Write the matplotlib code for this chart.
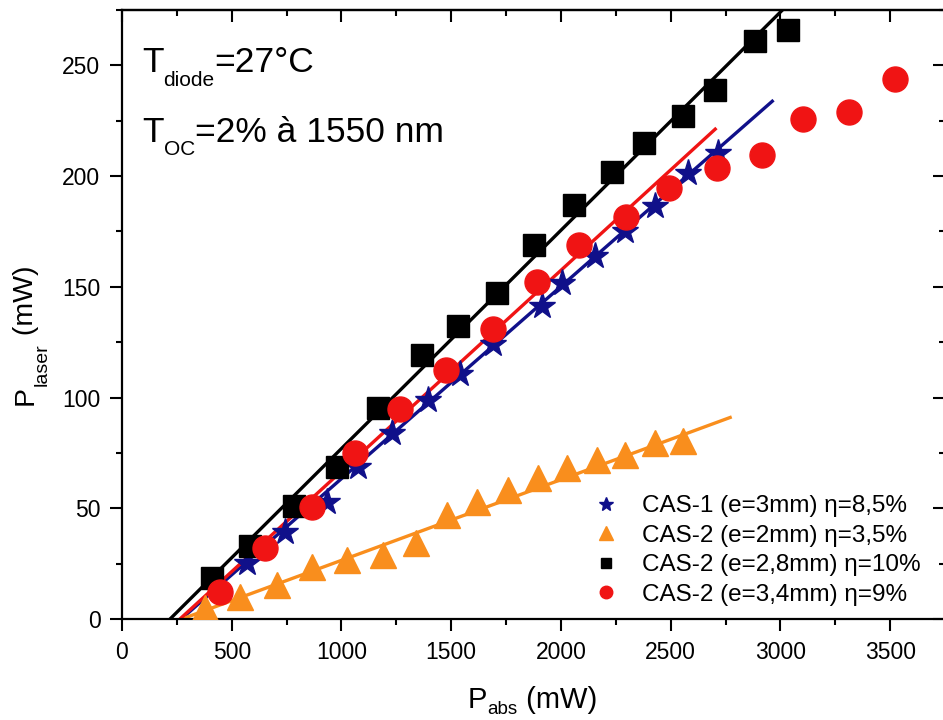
import matplotlib
matplotlib.use("Agg")
import matplotlib.pyplot as plt
from matplotlib.ticker import MultipleLocator
from matplotlib.transforms import IdentityTransform

plt.rcParams['font.family'] = ['Liberation Sans', 'DejaVu Sans']

# ---- data ----
cas1_x = [570, 743, 934, 1076, 1231, 1395, 1541, 1691, 1914, 2006, 2156, 2293, 2429, 2580, 2717]
cas1_y = [25.2, 39.2, 52.7, 68.5, 83.8, 98.7, 110.8, 124.3, 141.5, 151.8, 164.0, 175.2, 186.5, 201.4, 210.4]

cas2a_x = [380, 538, 706, 866, 1025, 1189, 1340, 1481, 1618, 1759, 1896, 2028, 2165, 2293, 2429, 2557]
cas2a_y = [5.0, 9.9, 15.3, 23.4, 26.6, 28.8, 34.2, 46.9, 52.7, 58.1, 63.5, 68.0, 71.6, 73.9, 79.7, 80.6]

cas2b_x = [410, 583, 784, 980, 1167, 1367, 1531, 1710, 1878, 2060, 2233, 2379, 2557, 2703, 2885, 3035]
cas2b_y = [18.5, 33.0, 51.0, 68.5, 95.5, 119.0, 132.5, 147.0, 169.0, 187.0, 202.0, 215.0, 227.0, 239.0, 261.0, 266.0]

cas2c_x = [447, 652, 866, 1062, 1267, 1477, 1691, 1892, 2083, 2297, 2493, 2712, 2917, 3104, 3314, 3523]
cas2c_y = [12.2, 32.0, 50.5, 75.0, 95.0, 112.5, 131.0, 152.0, 169.0, 181.6, 194.6, 203.6, 209.5, 225.7, 228.9, 243.7]

# linear fits (end points)
fit1_x, fit1_y = [270, 2963], [0, 233.8]
fit2a_x, fit2a_y = [273, 2771], [0, 91.0]
fit2b_x, fit2b_y = [219, 3050], [0, 279.0]
fit2c_x, fit2c_y = [264, 2703], [0, 221.2]

labels = ['CAS-1 (e=3mm) \u03b7=8,5%', 'CAS-2 (e=2mm) \u03b7=3,5%',
          'CAS-2 (e=2,8mm) \u03b7=10%', 'CAS-2 (e=3,4mm) \u03b7=9%']

navy = '#10108a'
orange = '#f98e1d'
red = '#f01414'
black = '#000000'

W, H = 943, 720
fig = plt.figure(figsize=(W / 100, H / 100), dpi=100)
ax = fig.add_axes([122 / W, (H - 619) / H, 823 / W, 609 / H])

lw = 2.4
ax.plot(fit1_x, fit1_y, color=navy, lw=lw, zorder=2)
ax.plot(fit2a_x, fit2a_y, color=orange, lw=lw, zorder=2)
ax.plot(fit2b_x, fit2b_y, color=black, lw=lw, zorder=2)
ax.plot(fit2c_x, fit2c_y, color=red, lw=lw, zorder=2)

h1, = ax.plot(cas1_x, cas1_y, ls='none', marker='*', ms=20, color=navy, label=labels[0], zorder=3)
h2, = ax.plot(cas2a_x, cas2a_y, ls='none', marker='^', ms=19, color=orange, label=labels[1], zorder=3)
h3, = ax.plot(cas2b_x, cas2b_y, ls='none', marker='s', ms=15.5, color=black, label=labels[2], zorder=3)
h4, = ax.plot(cas2c_x, cas2c_y, ls='none', marker='o', ms=18, color=red, label=labels[3], zorder=3)

ax.set_xlim(0, 3750)
ax.set_ylim(0, 275)
ax.xaxis.set_major_locator(MultipleLocator(500))
ax.xaxis.set_minor_locator(MultipleLocator(250))
ax.yaxis.set_major_locator(MultipleLocator(50))
ax.yaxis.set_minor_locator(MultipleLocator(25))
ax.tick_params(which='major', direction='out', length=8.5, width=1.5, labelsize=16.5, pad=7)
ax.tick_params(which='minor', direction='out', length=4.5, width=1.5)
for s in ax.spines.values():
    s.set_linewidth(1.6)

top = ax.secondary_xaxis('top')
top.xaxis.set_major_locator(MultipleLocator(500))
top.xaxis.set_minor_locator(MultipleLocator(250))
top.tick_params(which='major', direction='in', length=8.5, width=1.5, labeltop=False)
top.tick_params(which='minor', direction='in', length=4.5, width=1.5)
right = ax.secondary_yaxis('right')
right.yaxis.set_major_locator(MultipleLocator(50))
right.yaxis.set_minor_locator(MultipleLocator(25))
right.tick_params(which='major', direction='in', length=8.5, width=1.5, labelright=False)
right.tick_params(which='minor', direction='in', length=4.5, width=1.5)
for sec in (top, right):
    for s in sec.spines.values():
        s.set_linewidth(1.6)

ax.legend(handles=[h1, h2, h3, h4], loc='lower left', bbox_to_anchor=(591.5 / W, (H - 606) / H),
          bbox_transform=fig.transFigure, frameon=False, fontsize=17.5, markerscale=0.5,
          handlelength=1.2, handletextpad=0.88, labelspacing=0.31, borderpad=0, borderaxespad=0)

# ---- texts with subscripts, composed piece by piece (pixel positions, top-origin) ----
renderer = fig.canvas.get_renderer()


def compose(pieces, x0, y0_top, rotation=0):
    """pieces: list of (string, fontsize, drop_px). Baseline start at (x0, y0_top)."""
    pos = 0.0
    for s, fs, drop in pieces:
        if rotation == 0:
            x, y = x0 + pos, (H - y0_top) - drop
        else:
            x, y = x0 + drop, (H - y0_top) + pos
        t = fig.text(x, y, s, fontsize=fs, transform=IdentityTransform(), ha='left',
                     va='baseline', rotation=rotation, rotation_mode='anchor')
        bb = t.get_window_extent(renderer)
        pos += bb.width if rotation == 0 else bb.height


compose([('T', 25.5, 0), ('diode', 15, 14), ('=27°C', 25.5, 0)], 142, 72)
compose([('T', 25.5, 0), ('OC', 15, 13), ('=2% à 1550 nm', 25.5, 0)], 142, 142)
compose([('P', 21, 0), ('abs', 13.5, 6), (' (mW)', 21, 0)], 468, 708)
compose([('P', 20.5, 0), ('laser', 14, 14), (' (mW)', 20.5, 0)], 33, 405, rotation=90)

fig.savefig('out.png', dpi=100)
